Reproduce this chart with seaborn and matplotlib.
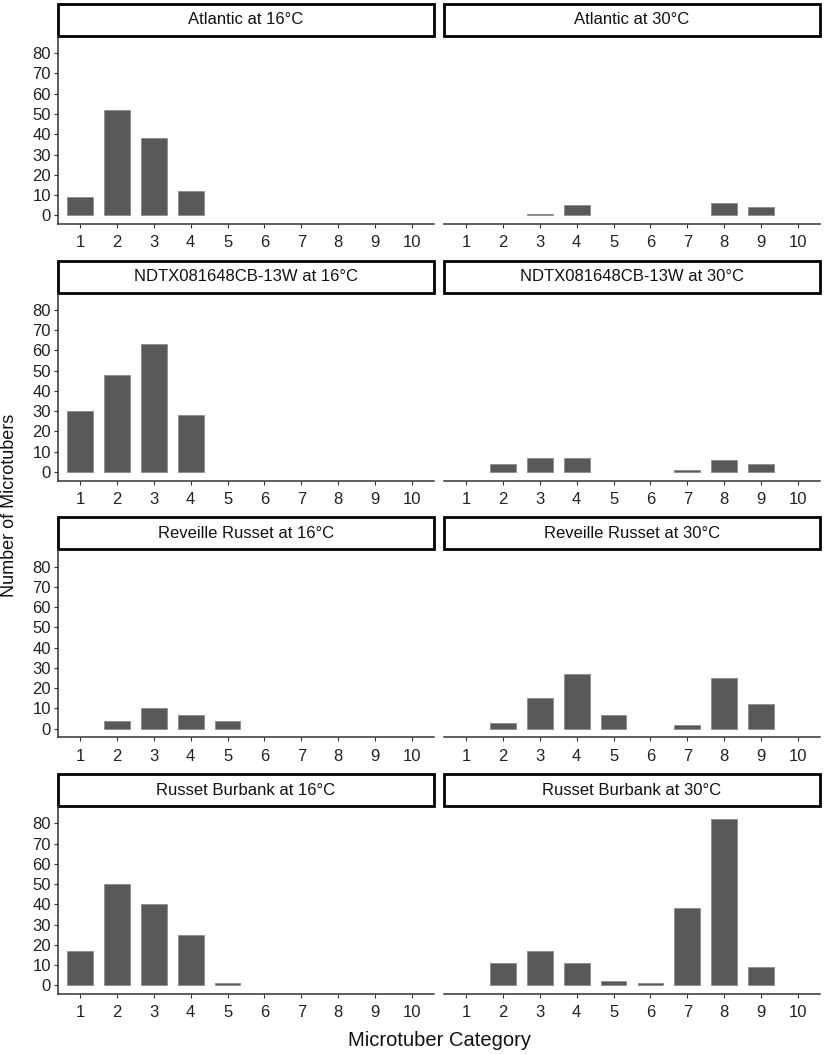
import pandas as pd
import seaborn as sns
import matplotlib.pyplot as plt
from matplotlib.patches import Rectangle

# microtuber counts per category (1..10)
categories = [1, 2, 3, 4, 5, 6, 7, 8, 9, 10]
atlantic_16 = [9, 52, 38, 12, 0, 0, 0, 0, 0, 0]
atlantic_30 = [0, 0, 0.4, 5, 0, 0, 0, 6, 4, 0]
ndtx_16 = [30, 48, 63, 28, 0, 0, 0, 0, 0, 0]
ndtx_30 = [0, 4, 7, 7, 0, 0, 1, 6, 4, 0]
reveille_16 = [0, 4, 10, 7, 4, 0, 0, 0, 0, 0]
reveille_30 = [0, 3, 15, 27, 7, 0, 2, 25, 12, 0]
burbank_16 = [17, 50, 40, 25, 1, 0, 0, 0, 0, 0]
burbank_30 = [0, 11, 17, 11, 2, 1, 38, 82, 9, 0]

varieties = ["Atlantic", "NDTX081648CB-13W", "Reveille Russet", "Russet Burbank"]
temps = ["16°C", "30°C"]
panels = [[atlantic_16, atlantic_30], [ndtx_16, ndtx_30],
          [reveille_16, reveille_30], [burbank_16, burbank_30]]

rows = []
for v, pair in zip(varieties, panels):
    for t, vals in zip(temps, pair):
        for c, n in zip(categories, vals):
            if n > 0:
                rows.append({"variety": v, "temp": t, "category": c, "count": n})
df = pd.DataFrame(rows)

sns.set_style("white")
plt.rcParams["font.family"] = ["Liberation Sans", "DejaVu Sans"]

W, H = 829, 1054
fig = plt.figure(figsize=(W / 100, H / 100), dpi=100)

col_x = [58, 444]
ax_w = 376
ax_h = 188
strip_h = 32
grey = "#333333"

for i, v in enumerate(varieties):
    bottom_px = 224 + 256.7 * i
    for j, t in enumerate(temps):
        ax = fig.add_axes([col_x[j] / W, 1 - bottom_px / H, ax_w / W, ax_h / H])
        sub = df[(df["variety"] == v) & (df["temp"] == t)]
        sns.barplot(data=sub, x="category", y="count", order=categories,
                    color="#595959", width=0.7, saturation=1,
                    edgecolor="#8c8c8c", linewidth=0.6, errorbar=None, ax=ax)
        ax.set_xlim(-0.6, 9.6)
        ax.set_ylim(-4.3, 88.5)
        ax.set_xlabel("")
        ax.set_ylabel("")
        for s in ["top", "right"]:
            ax.spines[s].set_visible(False)
        ax.spines["bottom"].set_color(grey)
        ax.spines["bottom"].set_linewidth(1.1)
        ax.tick_params(axis="x", length=3, width=0.8, color=grey,
                       labelsize=12, labelcolor="#222222", pad=5, bottom=True)
        if j == 0:
            ax.set_yticks(range(0, 81, 10))
            ax.spines["left"].set_color(grey)
            ax.spines["left"].set_linewidth(1.1)
            ax.tick_params(axis="y", length=3, width=0.8, color=grey,
                           labelsize=12, labelcolor="#222222", pad=2, left=True)
        else:
            ax.spines["left"].set_visible(False)
            ax.set_yticks([])
        # strip box with facet title
        hs = strip_h / ax_h
        ax.add_patch(Rectangle((0, 1), 1, hs, transform=ax.transAxes,
                               facecolor="white", edgecolor="black",
                               linewidth=2, clip_on=False))
        ax.text(0.5, 1 + hs / 2, f"{v} at {t}", transform=ax.transAxes,
                ha="center", va="center", fontsize=12, color="#111111")

fig.text(10 / W, 1 - 505 / H, "Number of Microtubers", rotation=90, ha="center",
         va="center", fontsize=13, color="#111111")
fig.text(439 / W, 1 - 1040 / H, "Microtuber Category", ha="center",
         va="center", fontsize=14.5, color="#111111")

fig.savefig("out.png", dpi=100)
